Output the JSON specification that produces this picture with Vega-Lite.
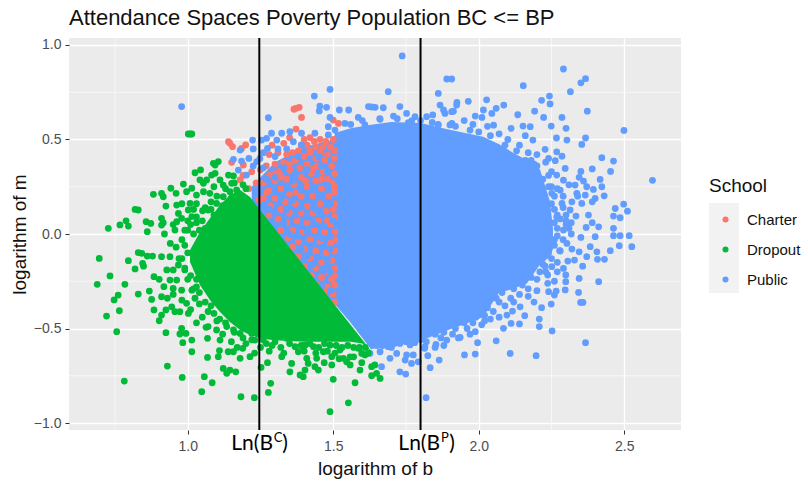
{"$schema":"https://vega.github.io/schema/vega-lite/v6.json","width":612,"height":392,"autosize":"none","padding":{"left":69,"top":38,"right":127,"bottom":55},
"background":"white","view":{"fill":"#EBEBEB","stroke":null},
"title":{"text":"Attendance Spaces Poverty Population BC <= BP","anchor":"start","frame":"group","font":"Liberation Sans","fontSize":22,"fontWeight":"normal","color":"#111111","offset":7},
"config":{"font":"Liberation Sans"},
"datasets":{
"red":[{"b":1.372,"m":0.665},{"b":1.383,"m":0.67},{"b":1.365,"m":0.66},{"b":1.391,"m":0.617},{"b":1.5,"m":0.603},{"b":1.518,"m":0.585},{"b":1.372,"m":0.555},{"b":1.145,"m":0.48},{"b":1.14,"m":0.488},{"b":1.154,"m":0.462},{"b":1.199,"m":0.471},{"b":1.185,"m":0.453},{"b":1.191,"m":0.365},{"b":1.151,"m":0.379},{"b":1.18,"m":0.286},{"b":1.22,"m":0.33},{"b":1.235,"m":0.27},{"b":1.21,"m":0.24},{"b":1.19,"m":0.31},{"b":1.245,"m":0.18},
{"b":1.29,"m":0.47},{"b":1.33,"m":0.48},{"b":1.35,"m":0.51},{"b":1.40,"m":0.5},{"b":1.42,"m":0.51},{"b":1.435,"m":0.49},{"b":1.455,"m":0.5},{"b":1.475,"m":0.49},{"b":1.50,"m":0.5},{"b":1.41,"m":0.47},{"b":1.44,"m":0.46},{"b":1.465,"m":0.46},{"b":1.49,"m":0.46},{"b":1.505,"m":0.44},{"b":1.38,"m":0.44},{"b":1.36,"m":0.43},{"b":1.34,"m":0.42},{"b":1.31,"m":0.43},{"b":1.28,"m":0.42},{"b":1.42,"m":0.43},{"b":1.455,"m":0.43},{"b":1.48,"m":0.42},{"b":1.4,"m":0.41},{"b":1.44,"m":0.4},{"b":1.505,"m":0.4},{"b":1.47,"m":0.39},{"b":1.37,"m":0.39},{"b":1.33,"m":0.38},{"b":1.30,"m":0.37},{"b":1.27,"m":0.36},{"b":1.25,"m":0.34},{"b":1.41,"m":0.37},{"b":1.445,"m":0.36},{"b":1.495,"m":0.36},{"b":1.385,"m":0.35},{"b":1.35,"m":0.34},{"b":1.315,"m":0.33},{"b":1.28,"m":0.31},{"b":1.465,"m":0.33},{"b":1.425,"m":0.32},{"b":1.505,"m":0.32},{"b":1.39,"m":0.3},{"b":1.34,"m":0.29},{"b":1.3,"m":0.28},{"b":1.26,"m":0.27},{"b":1.44,"m":0.28},{"b":1.48,"m":0.29},{"b":1.365,"m":0.26},{"b":1.41,"m":0.25},{"b":1.32,"m":0.24},{"b":1.28,"m":0.23},{"b":1.505,"m":0.25},{"b":1.46,"m":0.24},{"b":1.35,"m":0.21},{"b":1.39,"m":0.2},{"b":1.43,"m":0.2},{"b":1.3,"m":0.19},{"b":1.26,"m":0.19},{"b":1.485,"m":0.2},{"b":1.335,"m":0.17},{"b":1.37,"m":0.16},{"b":1.41,"m":0.15},{"b":1.455,"m":0.16},{"b":1.505,"m":0.16},{"b":1.285,"m":0.15},{"b":1.32,"m":0.13},{"b":1.35,"m":0.11},{"b":1.39,"m":0.11},{"b":1.43,"m":0.11},{"b":1.475,"m":0.12},{"b":1.28,"m":0.1},{"b":1.505,"m":0.09},{"b":1.31,"m":0.08},{"b":1.34,"m":0.06},{"b":1.375,"m":0.07},{"b":1.41,"m":0.06},{"b":1.45,"m":0.07},{"b":1.49,"m":0.05},{"b":1.32,"m":0.02},{"b":1.36,"m":0.02},{"b":1.395,"m":0.01},{"b":1.435,"m":0.02},{"b":1.47,"m":0.01},{"b":1.505,"m":0.01},{"b":1.345,"m":-0.02},{"b":1.38,"m":-0.04},{"b":1.42,"m":-0.03},{"b":1.455,"m":-0.04},{"b":1.49,"m":-0.05},{"b":1.36,"m":-0.07},{"b":1.4,"m":-0.08},{"b":1.44,"m":-0.09},{"b":1.475,"m":-0.1},{"b":1.505,"m":-0.09},{"b":1.38,"m":-0.12},{"b":1.42,"m":-0.13},{"b":1.46,"m":-0.15},{"b":1.495,"m":-0.14},{"b":1.4,"m":-0.17},{"b":1.44,"m":-0.18},{"b":1.48,"m":-0.2},{"b":1.505,"m":-0.18},{"b":1.425,"m":-0.22},{"b":1.46,"m":-0.23},{"b":1.495,"m":-0.24},{"b":1.445,"m":-0.27},{"b":1.48,"m":-0.28},{"b":1.505,"m":-0.27},{"b":1.47,"m":-0.31},{"b":1.5,"m":-0.32},{"b":1.505,"m":-0.36},
{"b":1.42,"m":0.44},{"b":1.39,"m":0.47},{"b":1.30,"m":0.32},{"b":1.27,"m":0.22},{"b":1.35,"m":0.37},{"b":1.43,"m":0.345},{"b":1.46,"m":0.29},{"b":1.405,"m":0.28},{"b":1.375,"m":0.22},{"b":1.495,"m":0.27},{"b":1.32,"m":0.3},{"b":1.48,"m":0.07},{"b":1.5,"m":0.13},{"b":1.505,"m":0.22},{"b":1.505,"m":-0.03},{"b":1.505,"m":-0.22}],
"blue":[{"b":1.26,"m":0.35},{"b":1.3,"m":0.41},{"b":1.34,"m":0.45},{"b":1.38,"m":0.41},{"b":1.45,"m":0.41},{"b":1.33,"m":0.35},{"b":1.37,"m":0.31},{"b":1.41,"m":0.34},{"b":1.46,"m":0.36},{"b":1.48,"m":0.33},{"b":1.3,"m":0.3},{"b":1.27,"m":0.29},{"b":1.36,"m":0.28},{"b":1.43,"m":0.25},{"b":1.48,"m":0.26},{"b":1.34,"m":0.25},{"b":1.3,"m":0.22},{"b":1.39,"m":0.23},{"b":1.45,"m":0.2},{"b":1.41,"m":0.18},{"b":1.36,"m":0.18},{"b":1.32,"m":0.19},{"b":1.28,"m":0.13},{"b":1.34,"m":0.13},{"b":1.39,"m":0.14},{"b":1.44,"m":0.13},{"b":1.49,"m":0.16},{"b":1.3,"m":0.11},{"b":1.37,"m":0.1},{"b":1.41,"m":0.09},{"b":1.46,"m":0.1},{"b":1.5,"m":0.07},{"b":1.33,"m":0.06},{"b":1.39,"m":0.04},{"b":1.44,"m":0.05},{"b":1.47,"m":0.04},{"b":1.35,"m":0.0},{"b":1.41,"m":0.01},{"b":1.46,"m":-0.02},{"b":1.49,"m":-0.01},{"b":1.38,"m":-0.01},{"b":1.42,"m":-0.06},{"b":1.39,"m":-0.08},{"b":1.46,"m":-0.07},{"b":1.49,"m":-0.08},{"b":1.41,"m":-0.12},{"b":1.45,"m":-0.12},{"b":1.48,"m":-0.14},{"b":1.43,"m":-0.16},{"b":1.47,"m":-0.19},{"b":1.49,"m":-0.2},{"b":1.46,"m":-0.27},{"b":1.49,"m":-0.3},
{"b":1.56,"m":0.58},{"b":1.6,"m":0.6},{"b":1.66,"m":0.61},{"b":1.72,"m":0.61},{"b":1.77,"m":0.6},{"b":1.86,"m":0.58},{"b":1.92,"m":0.57},{"b":1.97,"m":0.55},{"b":2.0,"m":0.54},{"b":2.04,"m":0.52},{"b":2.09,"m":0.47},{"b":2.13,"m":0.44},{"b":2.18,"m":0.39},{"b":2.2,"m":0.36},{"b":2.24,"m":0.31},{"b":2.25,"m":0.25},{"b":2.26,"m":0.2},{"b":2.25,"m":0.16},{"b":2.27,"m":0.1},{"b":2.26,"m":0.06},{"b":2.27,"m":-0.01},{"b":2.26,"m":-0.06},{"b":2.24,"m":-0.1},{"b":2.22,"m":-0.16},{"b":2.21,"m":-0.2},{"b":2.18,"m":-0.23},{"b":2.15,"m":-0.27},{"b":2.12,"m":-0.29},{"b":2.08,"m":-0.31},{"b":2.06,"m":-0.34},{"b":2.03,"m":-0.39},{"b":2.02,"m":-0.43},{"b":1.99,"m":-0.44},{"b":1.95,"m":-0.47},{"b":1.92,"m":-0.5},{"b":1.88,"m":-0.52},{"b":1.85,"m":-0.53},{"b":1.8,"m":-0.56},{"b":1.75,"m":-0.57},{"b":1.71,"m":-0.58},{"b":1.67,"m":-0.59},{"b":2.29,"m":0.14},{"b":2.31,"m":0.03},{"b":2.29,"m":-0.03},{"b":2.27,"m":-0.2},{"b":2.26,"m":-0.25},{"b":2.2,"m":-0.3},{"b":2.17,"m":-0.33},{"b":2.19,"m":-0.36},{"b":2.12,"m":-0.36},{"b":2.09,"m":-0.38},{"b":2.07,"m":-0.44},{"b":2.04,"m":-0.45},{"b":2.01,"m":-0.48},{"b":1.97,"m":-0.53},{"b":1.93,"m":-0.55},{"b":1.88,"m":-0.59},{"b":1.85,"m":-0.6},
{"b":0.979,"m":0.674},{"b":1.737,"m":0.942},{"b":1.89,"m":0.82},{"b":1.907,"m":0.82},{"b":1.689,"m":0.753},{"b":1.489,"m":0.765},{"b":1.435,"m":0.73},{"b":1.277,"m":0.615},{"b":1.454,"m":0.677},{"b":1.477,"m":0.67},{"b":1.452,"m":0.651},{"b":1.521,"m":0.656},{"b":1.553,"m":0.656},{"b":1.621,"m":0.674},{"b":1.644,"m":0.67},{"b":1.632,"m":0.672},{"b":1.672,"m":0.668},{"b":1.729,"m":0.674},{"b":1.586,"m":0.617},{"b":1.661,"m":0.607},{"b":1.489,"m":0.617},{"b":1.707,"m":0.624},{"b":1.752,"m":0.638},{"b":1.758,"m":0.589},{"b":1.781,"m":0.621},{"b":1.821,"m":0.621},{"b":1.842,"m":0.63},{"b":1.861,"m":0.744},{"b":1.867,"m":0.682},{"b":1.884,"m":0.638},{"b":1.924,"m":0.682},{"b":1.907,"m":0.647},{"b":1.861,"m":0.577},{"b":1.901,"m":0.577},{"b":1.609,"m":0.577},{"b":1.483,"m":0.568},{"b":1.54,"m":0.585},{"b":1.223,"m":0.497},{"b":1.18,"m":0.444},{"b":1.21,"m":0.4},{"b":1.157,"m":0.395},{"b":1.185,"m":0.386},{"b":1.174,"m":0.338},{"b":1.202,"m":0.312},{"b":1.254,"m":0.497},{"b":1.288,"m":0.533},{"b":1.271,"m":0.506},{"b":1.323,"m":0.533},{"b":1.351,"m":0.541},{"b":1.391,"m":0.533},{"b":1.437,"m":0.533},{"b":1.483,"m":0.524},{"b":1.306,"m":0.497},{"b":1.274,"m":0.453},{"b":1.248,"m":0.4},{"b":1.237,"m":0.383},{"b":1.391,"m":0.471},{"b":1.363,"m":0.488},{"b":1.506,"m":0.55},{"b":1.225,"m":0.45},{"b":1.31,"m":0.45},{"b":1.26,"m":0.43},{"b":1.225,"m":0.36},
{"b":1.8,"m":0.6},{"b":1.84,"m":0.59},{"b":1.95,"m":0.6},{"b":1.98,"m":0.58},{"b":2.03,"m":0.57},{"b":2.07,"m":0.53},{"b":2.1,"m":0.5},{"b":2.14,"m":0.47},{"b":2.17,"m":0.43},{"b":2.2,"m":0.42},{"b":2.23,"m":0.38},{"b":2.25,"m":0.33},{"b":2.27,"m":0.24},{"b":2.29,"m":0.2},{"b":2.26,"m":0.13},{"b":2.28,"m":0.08},{"b":2.3,"m":0.1},{"b":2.27,"m":0.03},{"b":2.3,"m":0.05},{"b":2.26,"m":-0.03},{"b":2.28,"m":-0.09},{"b":2.25,"m":-0.13},{"b":2.27,"m":-0.15},{"b":2.23,"m":-0.2},{"b":2.2,"m":-0.24},{"b":2.17,"m":-0.29},{"b":2.14,"m":-0.32},{"b":2.11,"m":-0.34},{"b":2.07,"m":-0.36},{"b":2.05,"m":-0.41},{"b":2.02,"m":-0.46},{"b":1.98,"m":-0.47},{"b":1.96,"m":-0.5},{"b":1.91,"m":-0.53},{"b":1.87,"m":-0.55},{"b":1.82,"m":-0.57},{"b":2.16,"m":0.39},{"b":2.19,"m":0.37},{"b":2.22,"m":0.29},{"b":2.24,"m":0.25},
{"b":2.291,"m":0.873},{"b":2.367,"m":0.822},{"b":2.351,"m":0.8},{"b":2.315,"m":0.753},{"b":2.153,"m":0.785},{"b":2.243,"m":0.73},{"b":2.216,"m":0.707},{"b":2.245,"m":0.688},{"b":2.192,"m":0.65},{"b":2.223,"m":0.617},{"b":2.286,"m":0.617},{"b":2.373,"m":0.65},{"b":2.134,"m":0.631},{"b":2.086,"m":0.682},{"b":2.027,"m":0.71},{"b":1.964,"m":0.702},{"b":1.925,"m":0.696},{"b":1.879,"m":0.656},{"b":1.913,"m":0.65},{"b":2.016,"m":0.656},{"b":2.06,"m":0.665},{"b":2.045,"m":0.638},{"b":1.988,"m":0.624},{"b":2.051,"m":0.576},{"b":2.011,"m":0.617},{"b":1.908,"m":0.585},{"b":2.152,"m":0.571},{"b":2.177,"m":0.568},{"b":2.249,"m":0.571},{"b":2.3,"m":0.559},{"b":2.111,"m":0.559},{"b":2.16,"m":0.52},{"b":2.267,"m":0.508},{"b":2.303,"m":0.497},{"b":2.367,"m":0.508},{"b":2.354,"m":0.474},{"b":2.499,"m":0.548},{"b":2.186,"m":0.497},{"b":2.228,"m":0.448},{"b":2.268,"m":0.435},{"b":2.286,"m":0.412},{"b":2.24,"m":0.4},{"b":2.263,"m":0.388},{"b":2.423,"m":0.404},{"b":2.463,"m":0.386},{"b":2.453,"m":0.331},{"b":2.39,"m":0.344},{"b":2.351,"m":0.331},{"b":2.297,"m":0.347},{"b":2.268,"m":0.312},{"b":2.291,"m":0.285},{"b":2.597,"m":0.284},{"b":2.417,"m":0.289},{"b":2.36,"m":0.28},{"b":2.331,"m":0.259},{"b":2.423,"m":0.25},{"b":2.431,"m":0.202},{"b":2.4,"m":0.188},{"b":2.371,"m":0.25},{"b":2.394,"m":0.236},{"b":2.337,"m":0.215},{"b":2.366,"m":0.206},{"b":2.28,"m":0.232},{"b":2.251,"m":0.215},{"b":2.498,"m":0.158},{"b":2.469,"m":0.135},{"b":2.511,"m":0.121},{"b":2.463,"m":0.095},{"b":2.486,"m":0.086},{"b":2.463,"m":0.03},{"b":2.463,"m":-0.009},{"b":2.486,"m":-0.009},{"b":2.517,"m":-0.009},{"b":2.377,"m":0.1},{"b":2.354,"m":0.162},{"b":2.286,"m":0.162},{"b":2.314,"m":0.127},{"b":2.334,"m":0.095},{"b":2.412,"m":0.038},{"b":2.369,"m":0.035},{"b":2.318,"m":0.06},{"b":2.318,"m":0},{"b":2.351,"m":-0.018},{"b":2.4,"m":-0.014},{"b":2.268,"m":0.091},{"b":2.291,"m":0.021},{"b":2.39,"m":0.06},{"b":2.34,"m":0.2},{"b":2.32,"m":0.17},{"b":2.31,"m":0.26},{"b":2.345,"m":0.3},{"b":2.39,"m":0.17},{"b":2.3,"m":0.07},
{"b":1.819,"m":-0.866},{"b":1.833,"m":-0.707},{"b":1.864,"m":-0.667},{"b":1.825,"m":-0.644},{"b":1.814,"m":-0.605},{"b":1.853,"m":-0.584},{"b":1.89,"m":-0.561},{"b":1.936,"m":-0.547},{"b":1.951,"m":-0.64},{"b":1.988,"m":-0.635},{"b":1.996,"m":-0.575},{"b":1.988,"m":-0.517},{"b":2.06,"m":-0.565},{"b":2.108,"m":-0.632},{"b":2.197,"m":-0.644},{"b":2.252,"m":-0.513},{"b":2.367,"m":-0.575},{"b":2.208,"m":-0.49},{"b":2.208,"m":-0.45},{"b":2.14,"m":-0.476},{"b":2.111,"m":-0.473},{"b":2.085,"m":-0.499},{"b":2.158,"m":-0.432},{"b":2.142,"m":-0.385},{"b":2.116,"m":-0.408},{"b":2.097,"m":-0.429},{"b":2.216,"m":-0.39},{"b":2.249,"m":-0.371},{"b":2.26,"m":-0.323},{"b":2.266,"m":-0.302},{"b":2.24,"m":-0.305},{"b":2.297,"m":-0.296},{"b":2.343,"m":-0.309},{"b":2.358,"m":-0.362},{"b":2.35,"m":-0.362},{"b":2.412,"m":-0.252},{"b":2.345,"m":-0.235},{"b":2.299,"m":-0.252},{"b":2.299,"m":-0.217},{"b":2.237,"m":-0.261},{"b":2.237,"m":-0.217},{"b":2.228,"m":-0.17},{"b":2.251,"m":-0.173},{"b":2.291,"m":-0.182},{"b":2.357,"m":-0.17},{"b":2.306,"m":-0.143},{"b":2.329,"m":-0.138},{"b":2.408,"m":-0.134},{"b":2.432,"m":-0.134},{"b":2.371,"m":-0.12},{"b":2.383,"m":-0.067},{"b":2.406,"m":-0.094},{"b":2.345,"m":-0.094},{"b":2.278,"m":-0.088},{"b":2.452,"m":-0.088},{"b":2.483,"m":-0.062},{"b":2.526,"m":-0.067},{"b":2.303,"m":-0.05},{"b":2.32,"m":-0.08},
{"b":1.666,"m":-0.702},{"b":1.695,"m":-0.658},{"b":1.729,"m":-0.729},{"b":1.749,"m":-0.741},{"b":1.718,"m":-0.632},{"b":1.752,"m":-0.64},{"b":1.747,"m":-0.667},{"b":1.769,"m":-0.685},{"b":1.775,"m":-0.64},{"b":1.792,"m":-0.676},{"b":1.764,"m":-0.587},{"b":1.815,"m":-0.596},{"b":1.626,"m":-0.632},{"b":1.661,"m":-0.623},{"b":1.689,"m":-0.596},{"b":1.729,"m":-0.579},{"b":1.65,"m":-0.59},{"b":1.7,"m":-0.6},{"b":1.78,"m":-0.575}],
"green":[{"b":1.0,"m":0.02},{"b":1.02,"m":0.0},{"b":1.03,"m":0.09},{"b":1.05,"m":0.07},{"b":1.06,"m":0.14},{"b":1.08,"m":0.13},{"b":1.1,"m":0.2},{"b":1.12,"m":0.15},{"b":1.09,"m":0.25},{"b":1.13,"m":0.24},{"b":1.16,"m":0.27},{"b":1.15,"m":0.19},{"b":1.19,"m":0.26},{"b":1.2,"m":0.24},{"b":0.98,"m":-0.13},{"b":0.99,"m":-0.18},{"b":1.0,"m":-0.24},{"b":1.02,"m":-0.29},{"b":1.03,"m":-0.28},{"b":1.04,"m":-0.31},{"b":1.06,"m":-0.36},{"b":1.08,"m":-0.38},{"b":1.09,"m":-0.42},{"b":1.11,"m":-0.45},{"b":1.13,"m":-0.47},{"b":1.16,"m":-0.52},{"b":1.19,"m":-0.55},{"b":1.22,"m":-0.56},{"b":1.27,"m":-0.58},{"b":1.3,"m":-0.57},{"b":1.35,"m":-0.58},{"b":1.39,"m":-0.59},{"b":1.42,"m":-0.58},{"b":1.47,"m":-0.58},{"b":1.51,"m":-0.59},{"b":1.55,"m":-0.59},{"b":1.59,"m":-0.6},{"b":1.62,"m":-0.63},{"b":0.94,"m":-0.05},{"b":0.96,"m":-0.07},{"b":0.97,"m":-0.13},{"b":0.92,"m":0.0},{"b":0.95,"m":0.05},{"b":1.0,"m":0.07},{"b":1.02,"m":0.13},{"b":0.98,"m":0.16},{"b":1.03,"m":0.16},{"b":0.95,"m":-0.32},{"b":0.98,"m":-0.35},{"b":1.01,"m":-0.4},{"b":1.05,"m":-0.44},{"b":1.03,"m":-0.47},{"b":1.07,"m":-0.49},{"b":1.12,"m":-0.53},{"b":1.15,"m":-0.57},{"b":1.17,"m":-0.6},{"b":1.23,"m":-0.63},{"b":1.28,"m":-0.62},{"b":1.33,"m":-0.63},{"b":1.4,"m":-0.62},{"b":1.44,"m":-0.63},{"b":1.48,"m":-0.62},{"b":1.52,"m":-0.66},{"b":1.57,"m":-0.65},
{"b":1.008,"m":0.529},{"b":1.002,"m":0.529},{"b":1.014,"m":0.529},{"b":0.727,"m":0.03},{"b":0.767,"m":0.048},{"b":0.788,"m":0.07},{"b":0.796,"m":0.042},{"b":0.819,"m":0.13},{"b":0.83,"m":0.127},{"b":0.857,"m":0.065},{"b":0.873,"m":0.056},{"b":0.861,"m":0.012},{"b":0.882,"m":0.21},{"b":0.91,"m":0.215},{"b":0.916,"m":0.197},{"b":0.942,"m":0.242},{"b":0.96,"m":0.215},{"b":0.925,"m":0.148},{"b":0.91,"m":0.083},{"b":0.91,"m":0.047},{"b":0.916,"m":0.06},{"b":0.962,"m":0.153},{"b":0.956,"m":0.021},{"b":0.968,"m":0.109},{"b":0.979,"m":0.083},{"b":0.962,"m":0.065},{"b":0.985,"m":0.264},{"b":0.996,"m":0.224},{"b":1.014,"m":0.242},{"b":1.008,"m":0.162},{"b":1.002,"m":0.127},{"b":1.014,"m":0.092},{"b":1.025,"m":0.324},{"b":1.044,"m":0.339},{"b":1.042,"m":0.286},{"b":1.054,"m":0.268},{"b":1.065,"m":0.286},{"b":1.03,"m":0.206},{"b":1.054,"m":0.224},{"b":1.076,"m":0.215},{"b":1.051,"m":0.123},{"b":1.07,"m":0.127},{"b":1.099,"m":0.162},{"b":1.088,"m":0.374},{"b":1.105,"m":0.383},{"b":1.094,"m":0.365},{"b":1.082,"m":0.312},{"b":1.094,"m":0.321},{"b":1.111,"m":0.286},{"b":1.122,"m":0.259},{"b":1.14,"m":0.312},{"b":1.157,"m":0.307},{"b":1.151,"m":0.268},{"b":1.122,"m":0.197},{"b":1.145,"m":0.224},{"b":1.168,"m":0.233},{"b":0.99,"m":0.02},{"b":1.01,"m":0.05},{"b":1.03,"m":0.06},{"b":1.04,"m":0.02},{"b":1.08,"m":0.17},{"b":1.09,"m":0.1},{"b":0.98,"m":-0.03},
{"b":0.696,"m":-0.129},{"b":0.689,"m":-0.266},{"b":0.733,"m":-0.222},{"b":0.796,"m":-0.141},{"b":0.819,"m":-0.185},{"b":0.784,"m":-0.266},{"b":0.761,"m":-0.323},{"b":0.747,"m":-0.349},{"b":0.765,"m":-0.406},{"b":0.721,"m":-0.434},{"b":0.756,"m":-0.517},{"b":0.83,"m":-0.099},{"b":0.842,"m":-0.102},{"b":0.861,"m":-0.117},{"b":0.879,"m":-0.117},{"b":0.845,"m":-0.155},{"b":0.848,"m":-0.17},{"b":0.83,"m":-0.318},{"b":0.868,"m":-0.302},{"b":0.876,"m":-0.346},{"b":0.884,"m":-0.402},{"b":0.91,"m":-0.429},{"b":0.902,"m":-0.459},{"b":0.925,"m":-0.522},{"b":0.93,"m":-0.699},{"b":0.782,"m":-0.778},{"b":0.884,"m":-0.226},{"b":0.902,"m":-0.24},{"b":0.918,"m":-0.279},{"b":0.91,"m":-0.332},{"b":0.93,"m":-0.34},{"b":0.925,"m":-0.402},{"b":0.945,"m":-0.385},{"b":0.956,"m":-0.411},{"b":0.973,"m":-0.411},{"b":1.002,"m":-0.42},{"b":0.939,"m":-0.244},{"b":0.95,"m":-0.288},{"b":0.962,"m":-0.244},{"b":0.979,"m":-0.297},{"b":0.968,"m":-0.164},{"b":0.99,"m":-0.19},{"b":0.91,"m":-0.12},{"b":0.939,"m":-0.12},{"b":0.928,"m":-0.19},{"b":0.95,"m":-0.19},{"b":1.014,"m":-0.297},{"b":1.025,"m":-0.34},{"b":0.996,"m":-0.367},{"b":0.979,"m":-0.499},{"b":0.973,"m":-0.529},{"b":0.994,"m":-0.526},{"b":1.014,"m":-0.561},{"b":0.983,"m":-0.575},{"b":1.014,"m":-0.623},{"b":1.068,"m":-0.552},{"b":1.063,"m":-0.494},{"b":1.099,"m":-0.508},{"b":1.111,"m":-0.561},{"b":1.068,"m":-0.653},{"b":1.109,"m":-0.617},{"b":1.105,"m":-0.649},{"b":1.139,"m":-0.623},{"b":1.157,"m":-0.623},{"b":1.189,"m":-0.605},{"b":1.214,"m":-0.649},{"b":1.18,"m":-0.658},{"b":0.981,"m":-0.759},{"b":1.057,"m":-0.755},{"b":1.084,"m":-0.787},{"b":1.048,"m":-0.834},{"b":1.122,"m":-0.711},{"b":1.134,"m":-0.737},{"b":1.145,"m":-0.72},{"b":1.165,"m":-0.729},{"b":1.183,"m":-0.861},{"b":1.229,"m":-0.866},{"b":1.252,"m":-0.706},{"b":1.274,"m":-0.681},{"b":1.285,"m":-0.79},{"b":1.277,"m":-0.838},{"b":1.323,"m":-0.649},{"b":1.357,"m":-0.685},{"b":1.351,"m":-0.729},{"b":1.386,"m":-0.746},{"b":1.403,"m":-0.72},{"b":1.397,"m":-0.755},{"b":1.409,"m":-0.658},{"b":1.414,"m":-0.685},{"b":1.443,"m":-0.658},{"b":1.437,"m":-0.702},{"b":1.449,"m":-0.72},{"b":1.469,"m":-0.681},{"b":1.495,"m":-0.649},{"b":1.495,"m":-0.693},{"b":1.5,"m":-0.769},{"b":1.489,"m":-0.94},{"b":1.552,"m":-0.893},{"b":1.575,"m":-0.787},{"b":1.546,"m":-0.676},{"b":1.558,"m":-0.693},{"b":1.598,"m":-0.681},{"b":1.592,"m":-0.72},{"b":1.558,"m":-0.65},{"b":1.632,"m":-0.75},{"b":1.649,"m":-0.737},{"b":1.661,"m":-0.764},{"b":1.643,"m":-0.693},{"b":1.632,"m":-0.702},{"b":1.598,"m":-0.632},{"b":1.609,"m":-0.64},{"b":1.586,"m":-0.605},{"b":1.523,"m":-0.614},{"b":1.535,"m":-0.658},{"b":1.506,"m":-0.63},{"b":1.134,"m":-0.49},{"b":1.157,"m":-0.508},{"b":1.18,"m":-0.526},{"b":1.22,"m":-0.526},{"b":1.231,"m":-0.561},{"b":1.26,"m":-0.561},{"b":1.306,"m":-0.535},{"b":1.34,"m":-0.552},{"b":1.369,"m":-0.596},{"b":1.38,"m":-0.623},{"b":1.403,"m":-0.588},{"b":1.432,"m":-0.596},{"b":1.466,"m":-0.623},{"b":1.489,"m":-0.588},{"b":1.29,"m":-0.59},{"b":1.32,"m":-0.6},{"b":1.45,"m":-0.6},{"b":1.53,"m":-0.6},{"b":1.57,"m":-0.6},{"b":1.61,"m":-0.6},{"b":1.2,"m":-0.58},{"b":1.25,"m":-0.6},{"b":1.1,"m":-0.46},{"b":1.07,"m":-0.41},{"b":1.04,"m":-0.37},{"b":1.03,"m":-0.24},{"b":1.0,"m":-0.1},{"b":0.99,"m":-0.06},{"b":1.02,"m":-0.14},{"b":1.01,"m":-0.22},{"b":1.06,"m":0.03},{"b":1.1,"m":0.08}],
"core":[{"b":1.22,"m":0.0,"m2":0.25},{"b":1.25,"m":-0.05,"m2":0.3},{"b":1.3,"m":-0.1,"m2":0.38},{"b":1.35,"m":-0.2,"m2":0.42},{"b":1.4,"m":-0.25,"m2":0.46},{"b":1.45,"m":-0.3,"m2":0.48},{"b":1.503,"m":-0.37,"m2":0.5},{"b":1.505,"m":-0.37,"m2":0.535},{"b":1.56,"m":-0.47,"m2":0.56},{"b":1.63,"m":-0.61,"m2":0.578},{"b":1.7,"m":-0.585,"m2":0.593},{"b":1.8,"m":-0.565,"m2":0.587},{"b":1.9,"m":-0.505,"m2":0.552},{"b":2.015,"m":-0.44,"m2":0.515},{"b":2.07,"m":-0.31,"m2":0.475},{"b":2.118,"m":-0.29,"m2":0.43},{"b":2.166,"m":-0.26,"m2":0.39},{"b":2.211,"m":-0.16,"m2":0.34},{"b":2.245,"m":-0.12,"m2":0.17},{"b":2.255,"m":-0.08,"m2":0.03}],
"gcore":[{"b":1.008,"m":-0.148,"m2":-0.085},{"b":1.042,"m":-0.27,"m2":0.01},{"b":1.077,"m":-0.35,"m2":0.085},{"b":1.111,"m":-0.413,"m2":0.153},{"b":1.145,"m":-0.466,"m2":0.206},{"b":1.18,"m":-0.508,"m2":0.233},{"b":1.214,"m":-0.534,"m2":0.196},{"b":1.248,"m":-0.55,"m2":0.127},{"b":1.283,"m":-0.56,"m2":0.059},{"b":1.33,"m":-0.565,"m2":-0.033},{"b":1.4,"m":-0.57,"m2":-0.169},{"b":1.45,"m":-0.57,"m2":-0.267},{"b":1.513,"m":-0.57,"m2":-0.39},{"b":1.56,"m":-0.57,"m2":-0.482},{"b":1.6,"m":-0.58,"m2":-0.559},{"b":1.635,"m":-0.63,"m2":-0.628}]
},
"encoding":{
"x":{"field":"b","type":"quantitative","title":"logarithm of b","scale":{"domain":[0.592,2.695],"nice":false,"zero":false},"axis":{"values":[1,1.5,2,2.5],"format":".1f","domain":false,"grid":true,"gridColor":"white","gridWidth":1.3,"tickColor":"#333333","tickSize":4,"labelColor":"#4D4D4D","labelFontSize":14,"labelPadding":5,"titleFontSize":19,"titleFontWeight":"normal","titleColor":"#111111","titlePadding":6}},
"y":{"field":"m","type":"quantitative","title":"logarithm of m","scale":{"domain":[-1.037,1.037],"nice":false,"zero":false},"axis":{"values":[-1,-0.5,0,0.5,1],"format":".1f","domain":false,"grid":true,"gridColor":"white","gridWidth":1.3,"tickColor":"#333333","tickSize":4,"labelColor":"#4D4D4D","labelFontSize":14,"labelPadding":4,"titleFontSize":19,"titleFontWeight":"normal","titleColor":"#111111","titlePadding":4}}
},
"layer":[
{"data":{"values":[{"b":0.75,"m":-1.037,"m2":1.037},{"b":1.25,"m":-1.037,"m2":1.037},{"b":1.75,"m":-1.037,"m2":1.037},{"b":2.25,"m":-1.037,"m2":1.037}]},"mark":{"type":"rule","color":"white","strokeWidth":0.6},"encoding":{"y2":{"field":"m2"}}},
{"data":{"values":[{"b":0.592,"b2":2.695,"m":-0.75},{"b":0.592,"b2":2.695,"m":-0.25},{"b":0.592,"b2":2.695,"m":0.25},{"b":0.592,"b2":2.695,"m":0.75}]},"mark":{"type":"rule","color":"white","strokeWidth":0.6},"encoding":{"x2":{"field":"b2"}}},
{"data":{"name":"core"},"mark":{"type":"area","color":"#619CFF"},"encoding":{"y2":{"field":"m2"}}},
{"data":{"name":"red"},"mark":{"type":"point","filled":true,"size":46,"opacity":1},"encoding":{"color":{"datum":"Charter","type":"nominal","title":"School","scale":{"domain":["Charter","Dropout","Public"],"range":["#F8766D","#00BA38","#619CFF"]},"legend":{"orient":"none","legendX":640,"legendY":139,"titleFontSize":19,"titleFontWeight":"normal","titleColor":"#111111","titlePadding":16,"labelFontSize":15,"labelColor":"#111111","symbolSize":36,"symbolType":"circle","symbolOpacity":0.85,"symbolOffset":9,"labelOffset":14,"rowPadding":14}}}},
{"data":{"name":"blue"},"mark":{"type":"point","filled":true,"size":46,"opacity":1},"encoding":{"color":{"datum":"Public","type":"nominal"}}},
{"data":{"name":"gcore"},"mark":{"type":"area","color":"#00BA38"},"encoding":{"y2":{"field":"m2"}}},
{"data":{"name":"green"},"mark":{"type":"point","filled":true,"size":46,"opacity":1},"encoding":{"color":{"datum":"Dropout","type":"nominal"}}},
{"data":{"values":[{"b":1.246,"m":-1.037,"m2":1.037},{"b":1.8,"m":-1.037,"m2":1.037}]},"mark":{"type":"rule","color":"black","strokeWidth":2},"encoding":{"y2":{"field":"m2"}}},
{"data":{"values":[{"b":1.293,"m":-1.143,"t":"Ln(B"},{"b":1.867,"m":-1.143,"t":"Ln(B"}]},"mark":{"type":"text","font":"Lato","fontSize":21,"color":"black","baseline":"alphabetic","align":"right"},"encoding":{"text":{"field":"t"}}},
{"data":{"values":[{"b":1.296,"m":-1.098,"t":"C"},{"b":1.87,"m":-1.098,"t":"P"}]},"mark":{"type":"text","font":"Lato","fontSize":13,"color":"black","baseline":"alphabetic","align":"left"},"encoding":{"text":{"field":"t"}}},
{"data":{"values":[{"b":1.325,"m":-1.143,"t":")"},{"b":1.899,"m":-1.143,"t":")"}]},"mark":{"type":"text","font":"Lato","fontSize":21,"color":"black","baseline":"alphabetic","align":"left"},"encoding":{"text":{"field":"t"}}},
{"data":{"values":[{"b":2.791,"b2":2.894,"m":-0.312,"m2":0.164}]},"mark":{"type":"rect","color":"#F2F2F2","clip":false},"encoding":{"x2":{"field":"b2"},"y2":{"field":"m2"}}}
]}
